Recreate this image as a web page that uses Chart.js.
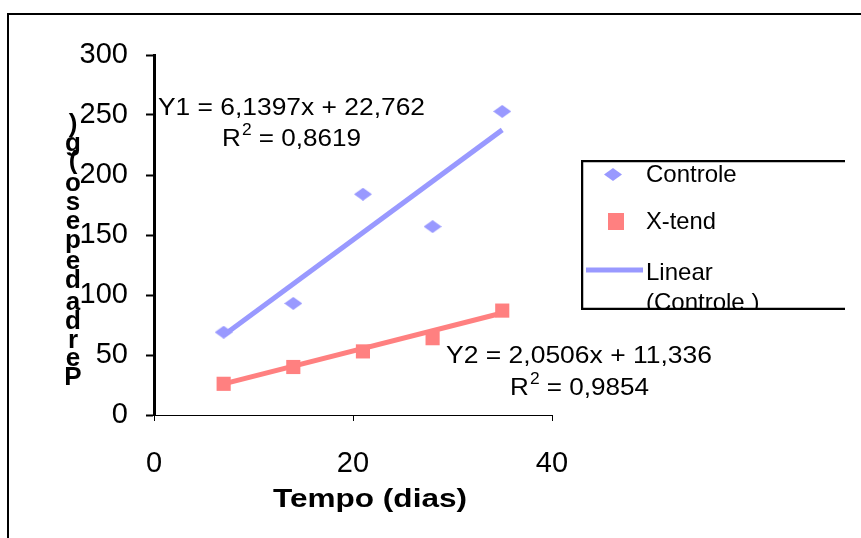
<!DOCTYPE html>
<html><head><meta charset="utf-8">
<script src="https://cdn.jsdelivr.net/npm/chart.js@4"></script>
<style>html,body{margin:0;padding:0;background:#fff}canvas{display:block}</style>
</head><body>
<canvas id="c" width="861" height="538"></canvas>
<script>
const days = [7, 14, 21, 28, 35];
const controle = [69, 93, 184, 157, 253];
const xtend = [26, 40, 53, 64, 87];
const trendDays = [7, 35];
const trendControle = [66.5, 237.6];
const trendXtend = [26, 85];
const xTicks = [0, 20, 40];
const yTicks = [0, 50, 100, 150, 200, 250, 300];
const eq1 = ["Y1 = 6,1397x + 22,762", "R", "2", " = 0,8619"];
const eq2 = ["Y2 = 2,0506x + 11,336", "R", "2", " = 0,9854"];
const xTitle = "Tempo (dias)";
const yTitle = "Perda de peso (g)";
const legendLabels = ["Controle", "X-tend", "Linear", "(Controle )"];

const BLUE = "#9999FF", RED = "#FF8080";
const FONT = "'Liberation Sans', Arial, sans-serif";
const pts = (xs, ys) => xs.map((x, i) => ({x, y: ys[i]}));

function diamondImg(w, h, color) {
  const c = document.createElement('canvas');
  c.width = w; c.height = h;
  const g = c.getContext('2d');
  g.fillStyle = color;
  g.beginPath(); g.moveTo(w / 2, 0); g.lineTo(w, h / 2); g.lineTo(w / 2, h); g.lineTo(0, h / 2); g.closePath(); g.fill();
  return c;
}
const diamond = diamondImg(18, 13, BLUE);

function stxt(ctx, text, x, y, font, width, align) {
  ctx.font = font;
  const w = ctx.measureText(text).width;
  const sx = width ? width / w : 1;
  ctx.save(); ctx.translate(x, y); ctx.scale(sx, 1);
  ctx.textAlign = 'left';
  ctx.fillText(text, align === 'center' ? -w / 2 : 0, 0);
  ctx.restore();
}

function rsq(ctx, parts, x, y, width, size) {
  const big = size + "px " + FONT, small = Math.round(size * 0.65) + "px " + FONT;
  ctx.font = big; const wR = ctx.measureText(parts[1]).width;
  ctx.font = small; const w2 = ctx.measureText(parts[2]).width;
  ctx.font = big; const w3 = ctx.measureText(parts[3]).width;
  const sx = width / (wR + w2 + w3);
  ctx.save(); ctx.translate(x, y); ctx.scale(sx, 1); ctx.textAlign = 'left';
  ctx.font = big; ctx.fillText(parts[1], 0, 0);
  ctx.font = small; ctx.fillText(parts[2], wR + 1, -8);
  ctx.font = big; ctx.fillText(parts[3], wR + w2 + 1, 0);
  ctx.restore();
}

const overlay = {
  id: 'overlay',
  afterDraw(chart) {
    const ctx = chart.ctx;
    ctx.save();
    // frame
    ctx.strokeStyle = "#000"; ctx.lineWidth = 2;
    ctx.beginPath(); ctx.moveTo(8, 538); ctx.lineTo(8, 14); ctx.lineTo(861, 14); ctx.stroke();
    // equations
    ctx.fillStyle = "#000"; ctx.textBaseline = "middle";
    stxt(ctx, eq1[0], 158, 108, "24px " + FONT, 267);
    rsq(ctx, eq1, 222, 139, 138, 24);
    stxt(ctx, eq2[0], 446, 356, "24px " + FONT, 266);
    rsq(ctx, eq2, 510, 388, 138, 24);
    // x title
    stxt(ctx, xTitle, 370, 500, "bold 26px " + FONT, 194, 'center');
    // y title: stacked characters from bottom up
    ctx.font = "bold 26px " + FONT; ctx.textAlign = "center";
    let yy = 378;
    for (const ch of yTitle) {
      if (ch === " ") { yy -= 3; continue; }
      ctx.fillText(ch, 73, yy);
      yy -= 18.8;
    }
    // legend
    ctx.strokeStyle = "#000"; ctx.lineWidth = 2.5;
    ctx.beginPath(); ctx.rect(581, 160, 266, 150); ctx.clip();
    ctx.beginPath(); ctx.moveTo(845, 161); ctx.lineTo(582, 161); ctx.lineTo(582, 309); ctx.lineTo(845, 309); ctx.stroke();
    ctx.beginPath(); ctx.rect(583, 162, 262, 146); ctx.clip();
    const ds = chart.data.datasets;
    ctx.font = "24px " + FONT; ctx.textAlign = "left"; ctx.fillStyle = "#000";
    ctx.fillText(ds[0].label, 646, 175);
    stxt(ctx, ds[1].label, 646, 222, "24px " + FONT, 70);
    ctx.fillText(legendLabels[2], 646, 273);
    ctx.fillText(legendLabels[3], 646, 303);
    ctx.drawImage(diamond, 604, 168);
    ctx.fillStyle = RED; ctx.fillRect(608, 213, 16, 17);
    ctx.strokeStyle = BLUE; ctx.lineWidth = 5;
    ctx.beginPath(); ctx.moveTo(586, 270); ctx.lineTo(643, 270); ctx.stroke();
    ctx.restore();
  }
};

new Chart(document.getElementById('c'), {
  type: 'scatter',
  data: {
    datasets: [
      {label: legendLabels[0], data: pts(days, controle), pointStyle: diamond, backgroundColor: BLUE, borderColor: BLUE, borderWidth: 0, order: 1},
      {label: legendLabels[1], data: pts(days, xtend), pointStyle: 'rect', radius: 10, backgroundColor: RED, borderColor: RED, borderWidth: 0, order: 1},
      {label: 'Linear (Controle )', type: 'line', data: pts(trendDays, trendControle), showLine: true, borderColor: BLUE, borderWidth: 5, pointRadius: 0, fill: false, order: 2},
      {label: 'Linear (X-tend)', type: 'line', data: pts(trendDays, trendXtend), showLine: true, borderColor: RED, borderWidth: 5, pointRadius: 0, fill: false, order: 2}
    ]
  },
  options: {
    responsive: false, animation: false, devicePixelRatio: 1,
    layout: {padding: {left: 0, top: 55, right: 309, bottom: 0}},
    plugins: {legend: {display: false}, tooltip: {enabled: false}},
    scales: {
      x: {
        type: 'linear', min: 0, max: 40,
        afterBuildTicks: s => { s.ticks = xTicks.map(v => ({value: v})); },
        afterFit: s => { s.height = 123; },
        grid: {drawOnChartArea: false, drawTicks: true, tickLength: 6, color: '#000', tickColor: '#000'},
        border: {display: true, color: '#000', width: 1},
        ticks: {color: '#000', font: {family: FONT, size: 29}, padding: 26, maxRotation: 0}
      },
      y: {
        type: 'linear', min: 0, max: 300,
        afterBuildTicks: s => { s.ticks = yTicks.map(v => ({value: v})); },
        afterFit: s => { s.width = 154; },
        grid: {drawOnChartArea: false, drawTicks: true, tickLength: 8, color: '#000', tickColor: '#000', tickWidth: 2},
        border: {display: true, color: '#000', width: 3},
        ticks: {color: '#000', font: {family: FONT, size: 29}, padding: 18}
      }
    }
  },
  plugins: [overlay]
});
</script>
</body></html>
